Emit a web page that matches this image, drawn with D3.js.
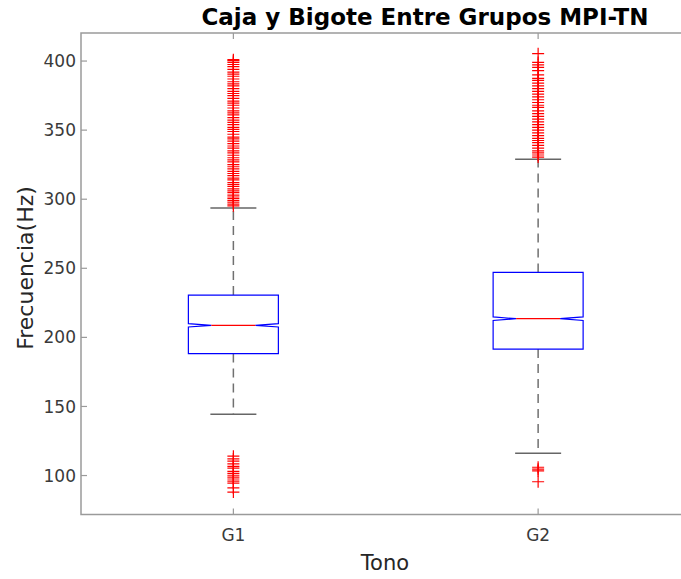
<!DOCTYPE html>
<html>
<head>
<meta charset="utf-8">
<script src="https://cdn.jsdelivr.net/npm/d3@7"></script>
<style>
  body { margin: 0; background: #fff; }
  text { font-family: "DejaVu Sans", sans-serif; }
</style>
</head>
<body>
<div id="chart"></div>
<script>
// groups and box statistics
var groups = ["G1", "G2"];
var q1 = [188.3, 191.5];
var medians = [208.7, 213.5];
var q3 = [230.6, 247.0];
var notchHalf = [1.2, 1.3];
var whiskLo = [144.4, 116.1];
var whiskHi = [293.6, 329.0];
var yTicks = [100, 150, 200, 250, 300, 350, 400];

// outliers (red crosses)
var outG1 = [88, 91, 94.5, 95.9, 97.5, 98.8, 100.2, 101.5, 103, 105.3, 106.7, 108.5, 110.5, 112, 114,
  295.2, 296.5, 297.8, 299, 300.4, 301.6, 303, 304.8, 306, 307.5, 309.2, 310.5, 312, 314, 315.3,
  317, 318.6, 320.2, 322, 323.5, 325, 327, 328.4, 330, 331.8, 333.5, 335, 337, 338.5, 340.2, 342,
  343.6, 345, 347, 349, 350.5, 352, 354, 355.6, 357.2, 359, 361, 362.5, 364, 366, 368, 369.5, 371,
  373, 375, 376.5, 378, 380, 382, 383.5, 385, 387, 389, 390.5, 392, 394, 396, 397.5, 399, 400.3, 401];
var outG2 = [95.5, 103.4, 104.6, 106,
  330.5, 332, 333.5, 335, 337, 339, 341, 342.5, 344, 346, 348, 350, 352, 354, 356, 358, 360, 362,
  364, 366.5, 368, 370, 372, 374, 376, 378, 380, 382, 384, 386, 387.5, 390, 393, 395.4, 397.3, 399, 405.3];
var outliers = [outG1, outG2];

var W = 681, H = 579;
var plotLeft = 81, plotTop = 33, plotBottom = 514.5, plotRight = 690.5;

var svg = d3.select("#chart").append("svg")
    .attr("width", W).attr("height", H);

var x = d3.scaleLinear().domain([0.5, 2.5]).range([plotLeft, plotRight]);
var y = d3.scaleLinear().domain([71.8, 420.3]).range([plotBottom, plotTop]);

var axisCol = "#9a9a9a";

// frame
svg.append("rect")
    .attr("x", plotLeft).attr("y", plotTop)
    .attr("width", plotRight - plotLeft).attr("height", plotBottom - plotTop)
    .attr("fill", "none").attr("stroke", axisCol).attr("stroke-width", 1.5);

// y ticks (inward) and labels
yTicks.forEach(function (t) {
  svg.append("line")
      .attr("x1", plotLeft).attr("x2", plotLeft + 6)
      .attr("y1", y(t)).attr("y2", y(t))
      .attr("stroke", axisCol).attr("stroke-width", 1.2);
  svg.append("text")
      .attr("x", 76).attr("y", y(t))
      .attr("dy", "0.36em")
      .attr("text-anchor", "end")
      .attr("font-size", "17px")
      .attr("fill", "#3a3a3a")
      .text(t);
});

// x ticks top and bottom
groups.forEach(function (g, i) {
  var cx = x(i + 1);
  svg.append("line").attr("x1", cx).attr("x2", cx).attr("y1", plotBottom).attr("y2", plotBottom - 6)
      .attr("stroke", axisCol).attr("stroke-width", 1.2);
  svg.append("line").attr("x1", cx).attr("x2", cx).attr("y1", plotTop).attr("y2", plotTop + 6)
      .attr("stroke", axisCol).attr("stroke-width", 1.2);
  svg.append("text")
      .attr("x", cx).attr("y", 541)
      .attr("text-anchor", "middle")
      .attr("font-size", "17px")
      .attr("fill", "#3a3a3a")
      .text(g);
});

var half = 45, inset = 23, capHalf = 23;

groups.forEach(function (g, i) {
  var cx = x(i + 1);

  // whiskers, dashed
  [[q3[i], whiskHi[i]], [q1[i], whiskLo[i]]].forEach(function (w) {
    svg.append("line")
        .attr("x1", cx).attr("x2", cx)
        .attr("y1", y(w[0])).attr("y2", y(w[1]))
        .attr("stroke", "#707070").attr("stroke-width", 1.5)
        .attr("stroke-dasharray", "9,6");
    svg.append("line")
        .attr("x1", cx - capHalf).attr("x2", cx + capHalf)
        .attr("y1", y(w[1])).attr("y2", y(w[1]))
        .attr("stroke", "#666").attr("stroke-width", 1.5);
  });

  // notched box
  var yt = y(q3[i]), yb = y(q1[i]), ym = y(medians[i]);
  var yn1 = y(medians[i] + notchHalf[i]), yn2 = y(medians[i] - notchHalf[i]);
  var pts = [
    [cx - half, yt], [cx + half, yt], [cx + half, yn1], [cx + half - inset, ym],
    [cx + half, yn2], [cx + half, yb], [cx - half, yb], [cx - half, yn2],
    [cx - half + inset, ym], [cx - half, yn1]
  ];
  svg.append("path")
      .attr("d", d3.line()(pts) + "Z")
      .attr("fill", "none").attr("stroke", "#0000ff").attr("stroke-width", 1.2);

  // median
  svg.append("line")
      .attr("x1", cx - half + inset).attr("x2", cx + half - inset)
      .attr("y1", ym).attr("y2", ym)
      .attr("stroke", "#ff0000").attr("stroke-width", 1.2);

  // outliers
  svg.append("g").selectAll("path")
      .data(outliers[i])
      .enter().append("path")
      .attr("d", function (v) {
        var py = y(v);
        return "M" + (cx - 6) + "," + py + "H" + (cx + 6) + "M" + cx + "," + (py - 6) + "V" + (py + 6);
      })
      .attr("stroke", "#ff0000").attr("stroke-width", 1.2).attr("fill", "none");
});

// title and axis labels
svg.append("text")
    .attr("x", 425).attr("y", 25)
    .attr("text-anchor", "middle")
    .attr("font-size", "23px")
    .attr("font-weight", "bold")
    .attr("fill", "#000")
    .text("Caja y Bigote Entre Grupos MPI-TN");

svg.append("text")
    .attr("transform", "translate(33,268) rotate(-90)")
    .attr("text-anchor", "middle")
    .attr("font-size", "22px")
    .attr("fill", "#262626")
    .text("Frecuencia(Hz)");

svg.append("text")
    .attr("x", 385).attr("y", 570)
    .attr("text-anchor", "middle")
    .attr("font-size", "21px")
    .attr("fill", "#262626")
    .text("Tono");
</script>
</body>
</html>
